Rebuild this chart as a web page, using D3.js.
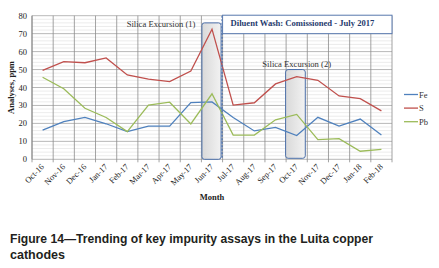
<!DOCTYPE html>
<html>
<head>
<meta charset="utf-8">
<script src="https://cdn.jsdelivr.net/npm/d3@7"></script>
<style>
  body { margin: 0; background: #fff; }
  svg { display: block; }
</style>
</head>
<body>
<div id="chart"></div>
<script>
// data
var months = ["Oct-16", "Nov-16", "Dec-16", "Jan-17", "Feb-17", "Mar-17", "Apr-17", "May-17", "Jun-17",
    "Jul-17", "Aug-17", "Sep-17", "Oct-17", "Nov-17", "Dec-17", "Jan-18", "Feb-18"];
var fe = [16.3, 21, 23.3, 19.8, 15.4, 18.5, 18.5, 31.6, 32, 23.3, 15.8, 17.8, 13.2, 23.4, 18.5, 22.4, 13.5];
var s = [49.5, 54.4, 53.8, 56.5, 47, 44.7, 43.3, 49.2, 72.5, 30.2, 31.5, 42, 46, 44, 35.3, 33.8, 27];
var pb = [45.7, 39.3, 28.4, 23.3, 15.4, 30.2, 31.8, 19.7, 36.5, 13.5, 13.5, 22, 25, 11, 11.5, 4.5, 5.5];
var yTicks = [0, 10, 20, 30, 40, 50, 60, 70, 80];

var series = [
    { name: "Fe", values: fe, color: "#4f81bd" },
    { name: "S", values: s, color: "#c0504d" },
    { name: "Pb", values: pb, color: "#9bbb59" }
];

var width = 439, height = 268;
var margin = { top: 15.7, right: 47, bottom: 108.7, left: 32 };

var svg = d3.select("#chart").append("svg")
    .attr("width", width)
    .attr("height", height);

var x = d3.scaleBand()
    .domain(months)
    .range([margin.left, width - margin.right]);

var y = d3.scaleLinear()
    .domain([0, 80])
    .range([height - margin.bottom, margin.top]);

var serif = "'Liberation Serif', 'Times New Roman', serif";

// gradient for the excursion boxes
var grad = svg.append("defs").append("linearGradient")
    .attr("id", "exc").attr("x1", "0").attr("x2", "1").attr("y1", "0").attr("y2", "0");
grad.append("stop").attr("offset", "0").attr("stop-color", "#d9d9d9");
grad.append("stop").attr("offset", "1").attr("stop-color", "#f2f2f2");

// minor horizontal grid
svg.append("g").selectAll("line")
    .data(d3.range(0, 81, 2).filter(function (d) { return d % 10 != 0; }))
    .enter().append("line")
    .attr("x1", x.range()[0]).attr("x2", x.range()[1])
    .attr("y1", function (d) { return y(d); }).attr("y2", function (d) { return y(d); })
    .attr("stroke", "#e4e4e4").attr("stroke-width", 0.7);

// major horizontal grid
svg.append("g").selectAll("line")
    .data(yTicks)
    .enter().append("line")
    .attr("x1", x.range()[0]).attr("x2", x.range()[1])
    .attr("y1", function (d) { return y(d); }).attr("y2", function (d) { return y(d); })
    .attr("stroke", "#a6a6a6").attr("stroke-width", 0.8);

// vertical grid at category boundaries
var bounds = months.map(function (m) { return x(m); }).concat([x.range()[1]]);
svg.append("g").selectAll("line")
    .data(bounds)
    .enter().append("line")
    .attr("x1", function (d) { return d; }).attr("x2", function (d) { return d; })
    .attr("y1", y(80)).attr("y2", y(0) + 3)
    .attr("stroke", "#8c8c8c").attr("stroke-width", 0.8);

// excursion boxes
var bw = x.bandwidth();
svg.append("rect")
    .attr("x", x("Jun-17") + 0.5).attr("y", y(76))
    .attr("width", bw - 2).attr("height", y(0) - y(76))
    .attr("rx", 2.5)
    .attr("fill", "url(#exc)").attr("stroke", "#4a6ea8").attr("stroke-width", 1);

svg.append("rect")
    .attr("x", x("Oct-17") - 0.5).attr("y", y(50))
    .attr("width", bw - 1.5).attr("height", y(0) - y(50) - 1)
    .attr("rx", 2.5)
    .attr("fill", "url(#exc)").attr("stroke", "#4a6ea8").attr("stroke-width", 1);

// series lines
var line = d3.line()
    .x(function (d, i) { return x(months[i]) + bw / 2; })
    .y(function (d) { return y(d); });

svg.append("g").selectAll("path")
    .data(series)
    .enter().append("path")
    .attr("d", function (d) { return line(d.values); })
    .attr("fill", "none")
    .attr("stroke", function (d) { return d.color; })
    .attr("stroke-width", 1.3);

// diluent wash line + box
var jul = x("Jul-17");
svg.append("line")
    .attr("x1", jul - 0.5).attr("x2", jul - 0.5)
    .attr("y1", y(80)).attr("y2", y(0))
    .attr("stroke", "#4a6ea8").attr("stroke-width", 1.3)
    .attr("stroke-dasharray", "2,1.5");

svg.append("rect")
    .attr("x", jul).attr("y", y(80) - 0.5)
    .attr("width", x.range()[1] - jul).attr("height", y(70) - y(80) + 0.5)
    .attr("fill", "#fff").attr("stroke", "#5b7bb0").attr("stroke-width", 1);

svg.append("text")
    .attr("x", jul + 8).attr("y", y(80) + 10.5)
    .attr("font-family", serif).attr("font-size", 8.6).attr("font-weight", "bold")
    .attr("fill", "#1f3b6e")
    .text("Diluent Wash: Comissioned - July 2017");

svg.append("text")
    .attr("x", x("Jun-17") - 6).attr("y", y(73.8))
    .attr("text-anchor", "end")
    .attr("font-family", serif).attr("font-size", 8.6).attr("fill", "#333")
    .text("Silica Excursion (1)");

svg.append("text")
    .attr("x", x("Oct-17") + bw / 2).attr("y", y(51.4))
    .attr("text-anchor", "middle")
    .attr("font-family", serif).attr("font-size", 8.6).attr("fill", "#333")
    .text("Silica Excursion (2)");

// y axis
svg.append("line")
    .attr("x1", margin.left).attr("x2", margin.left)
    .attr("y1", y(80)).attr("y2", y(0))
    .attr("stroke", "#8c8c8c");

svg.append("g").selectAll("text")
    .data(yTicks)
    .enter().append("text")
    .attr("x", margin.left - 5).attr("y", function (d) { return y(d) + 3; })
    .attr("text-anchor", "end")
    .attr("font-family", serif).attr("font-size", 8.5).attr("fill", "#222")
    .text(function (d) { return d; });

// x tick labels, rotated
svg.append("g").selectAll("text")
    .data(months)
    .enter().append("text")
    .attr("transform", function (d) {
        return "translate(" + (x(d) + bw / 2 + 2) + "," + (y(0) + 8) + ") rotate(-45)";
    })
    .attr("text-anchor", "end")
    .attr("font-family", serif).attr("font-size", 8.4).attr("fill", "#222")
    .text(function (d) { return d; });

// axis titles
svg.append("text")
    .attr("transform", "translate(14," + y(40) + ") rotate(-90)")
    .attr("text-anchor", "middle")
    .attr("font-family", serif).attr("font-size", 8.5).attr("font-weight", "bold").attr("fill", "#222")
    .text("Analyses, ppm");

svg.append("text")
    .attr("x", 212).attr("y", 200)
    .attr("text-anchor", "middle")
    .attr("font-family", serif).attr("font-size", 8.5).attr("font-weight", "bold").attr("fill", "#222")
    .text("Month");

// legend
var legend = svg.append("g").selectAll("g")
    .data(series)
    .enter().append("g")
    .attr("transform", function (d, i) { return "translate(404," + (94.5 + i * 13.6) + ")"; });

legend.append("line")
    .attr("x1", 0).attr("x2", 14)
    .attr("stroke", function (d) { return d.color; }).attr("stroke-width", 1.3);

legend.append("text")
    .attr("x", 15).attr("y", 3)
    .attr("font-family", serif).attr("font-size", 8.5).attr("fill", "#333")
    .text(function (d) { return d.name; });

// caption
var cap = svg.append("g")
    .attr("font-family", "'Liberation Sans', Arial, sans-serif")
    .attr("font-size", 12).attr("font-weight", "bold").attr("fill", "#231f20");
cap.append("text").attr("x", 10).attr("y", 243)
    .attr("textLength", 363).attr("lengthAdjust", "spacingAndGlyphs")
    .text("Figure 14\u2014Trending of key impurity assays in the Luita copper");
cap.append("text").attr("x", 10).attr("y", 259)
    .attr("textLength", 55).attr("lengthAdjust", "spacingAndGlyphs")
    .text("cathodes");
</script>
</body>
</html>
